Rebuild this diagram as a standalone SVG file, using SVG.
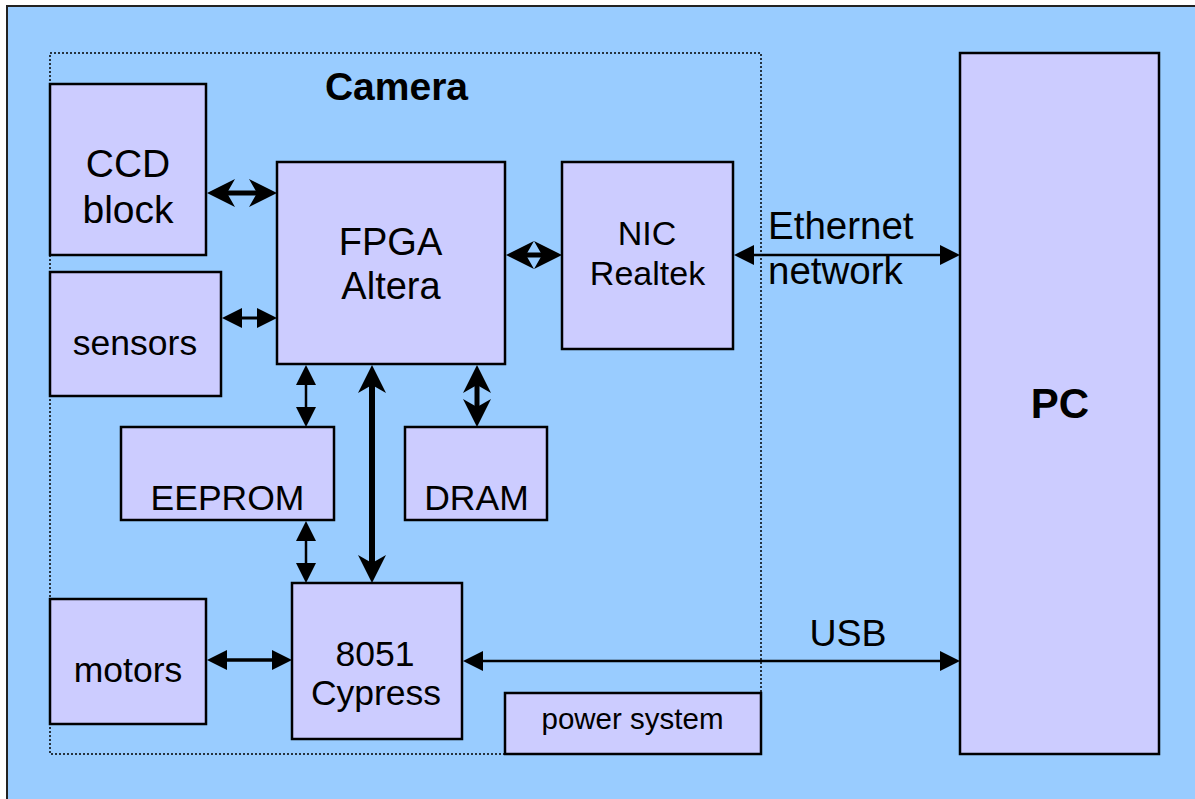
<svg xmlns="http://www.w3.org/2000/svg" width="1195" height="799" viewBox="0 0 1195 799">
<style>
.box{fill:#CCCCFF;stroke:#000;stroke-width:2.5}
.t{font-family:"Liberation Sans",Arial,sans-serif;font-size:35.5px;fill:#000;text-anchor:middle}
.b{font-weight:bold}
.c{stroke:#000;fill:none}
</style>
<defs>
<marker id="barb" markerUnits="userSpaceOnUse" orient="auto-start-reverse" overflow="visible" refX="0" refY="0" markerWidth="1" markerHeight="1">
<path d="M10,0 L-18,-14 L-10,0 L-18,14 Z" fill="#000"/>
</marker>
<marker id="tri" markerUnits="userSpaceOnUse" orient="auto-start-reverse" overflow="visible" refX="0" refY="0" markerWidth="1" markerHeight="1">
<path d="M8,0 L-12,-10 L-12,10 Z" fill="#000"/>
</marker>
</defs>
<rect x="0" y="0" width="1195" height="799" fill="#fff"/>
<rect x="7" y="6" width="1200" height="810" fill="#99CCFF" stroke="#222" stroke-width="2"/>
<g id="camera">
<rect x="50" y="53" width="711" height="701" fill="none" stroke="#000" stroke-width="1.5" stroke-dasharray="2,2"/>
<text class="t b" x="396.5" y="100" style="font-size:39px">Camera</text>
</g>
<g id="ccd"><rect class="box" x="50" y="84" width="156" height="171"/><text class="t" x="128" y="177" style="font-size:39px">CCD</text><text class="t" x="128" y="223" style="font-size:39px">block</text></g>
<g id="sensors"><rect class="box" x="50" y="272" width="171" height="124"/><text class="t" x="135" y="355">sensors</text></g>
<g id="fpga"><rect class="box" x="277" y="162" width="228" height="202"/><text class="t" x="390.5" y="255" style="font-size:38px">FPGA</text><text class="t" x="391" y="299" style="font-size:38px">Altera</text></g>
<g id="nic"><rect class="box" x="562" y="162" width="171" height="187"/><text class="t" x="647" y="245" style="font-size:34px">NIC</text><text class="t" x="647.5" y="285" style="font-size:34px">Realtek</text></g>
<g id="eeprom"><rect class="box" x="121" y="427" width="213" height="93"/><text class="t" x="227.5" y="510">EEPROM</text></g>
<g id="dram"><rect class="box" x="405" y="427" width="142" height="93"/><text class="t" x="476.5" y="510">DRAM</text></g>
<g id="motors"><rect class="box" x="50" y="599" width="156" height="125"/><text class="t" x="128" y="682">motors</text></g>
<g id="cypress"><rect class="box" x="292" y="583" width="170" height="156"/><text class="t" x="375" y="666">8051</text><text class="t" x="376" y="705">Cypress</text></g>
<g id="power"><rect class="box" x="505" y="693" width="256" height="61"/><text class="t" x="632.5" y="729" style="font-size:29.5px">power system</text></g>
<g id="pc"><rect class="box" x="960" y="53" width="199" height="701"/><text class="t b" x="1060" y="418" style="font-size:42px">PC</text></g>
<g id="connectors">
<line class="c" x1="217" y1="193" x2="267" y2="193" stroke-width="5" marker-start="url(#barb)" marker-end="url(#barb)"/>
<line class="c" x1="230" y1="318" x2="269" y2="318" stroke-width="3" marker-start="url(#tri)" marker-end="url(#tri)"/>
<line class="c" x1="516" y1="255" x2="552" y2="255" stroke-width="5" marker-start="url(#barb)" marker-end="url(#barb)"/>
<line class="c" x1="742" y1="255" x2="952" y2="255" stroke-width="2.5" marker-start="url(#tri)" marker-end="url(#tri)"/>
<line class="c" x1="306" y1="373" x2="306" y2="419" stroke-width="2.5" marker-start="url(#tri)" marker-end="url(#tri)"/>
<line class="c" x1="372" y1="375" x2="372" y2="573" stroke-width="6" marker-start="url(#barb)" marker-end="url(#barb)"/>
<line class="c" x1="477" y1="375" x2="477" y2="417" stroke-width="5" marker-start="url(#barb)" marker-end="url(#barb)"/>
<line class="c" x1="306" y1="529" x2="306" y2="575" stroke-width="2.5" marker-start="url(#tri)" marker-end="url(#tri)"/>
<line class="c" x1="215" y1="660" x2="284" y2="660" stroke-width="3.5" marker-start="url(#tri)" marker-end="url(#tri)"/>
<line class="c" x1="471" y1="661" x2="952" y2="661" stroke-width="2.5" marker-start="url(#tri)" marker-end="url(#tri)"/>
<text class="t" x="768" y="239" style="font-size:38.5px;text-anchor:start">Ethernet</text>
<text class="t" x="768" y="284" style="font-size:38.5px;text-anchor:start">network</text>
<text class="t" x="848" y="646" style="font-size:37.5px">USB</text>
</g>
</svg>
